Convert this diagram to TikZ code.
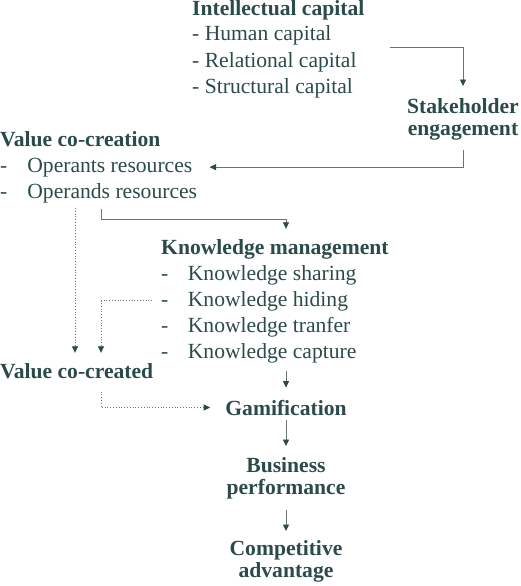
\documentclass[tikz,border=0pt]{standalone}
\usepackage{fontspec}
\setmainfont{Liberation Serif}
\usepackage{xcolor}
\usetikzlibrary{arrows.meta}

\definecolor{tealdark}{HTML}{2B4B4B}
\definecolor{linegray}{HTML}{6E7272}

\tikzset{
    txt/.style={inner sep=0, anchor=base west, text=tealdark, font=\fontsize{21.6}{22}\selectfont},
    hd/.style={txt, font=\fontsize{21.6}{22}\selectfont\bfseries},
    stack/.style={hd, anchor=north, align=center},
    conn/.style={draw=linegray, line width=0.8pt, -{Triangle[length=6.5pt, width=6pt, color=tealdark]}},
    dconn/.style={conn, dotted}
}

\begin{document}
\begin{tikzpicture}[x=1pt, y=-1pt]
            \useasboundingbox (0,0) rectangle (520,586);

            \node[hd] (ic) at (192,16) {Intellectual capital};
            \foreach \w [count=\i] in {Human,Relational,Structural} {
                \node[txt] (ic\i) at (192,{15+26*\i}) {- \w\ capital};
            }

            \node[stack] (se) at (463,98) {Stakeholder\\engagement};

            \node[hd] (vc) at (0,146) {Value co-creation};
            \foreach \w [count=\i] in {Operants,Operands} {
                \node[txt] (vr\i) at (0,{146+26*\i}) {-\hspace{20pt}\w\ resources};
            }

            \node[hd] (km) at (161,254) {Knowledge management};
            \foreach \w [count=\i] in {sharing,hiding,tranfer,capture} {
                \node[txt] (km\i) at (161,{254+26*\i}) {-\hspace{19.5pt}Knowledge \w};
            }

            \node[hd] (vd) at (0,378) {Value co-created};

            \node[hd, anchor=base] (gm) at (286,415) {Gamification};
            \node[stack] (bp) at (286,457) {Business\\performance};
            \node[stack] (ca) at (286,540) {Competitive\\advantage};

            \coordinate (a1) at (390,47);
            \coordinate (b1) at (101,209);
            \coordinate (c1) at (75,208);

            \draw[conn, shorten >=12pt] (a1) -| (se.north);
            \draw[conn, shorten <=10pt, shorten >=17pt] (se.south) |- (vr1.east);
            \draw[conn, shorten >=10pt] (b1) -- ++(0,10) -| (gm |- km.north);

            \draw[dconn, shorten >=10pt] (c1) -- (c1 |- vd.north);
            \draw[dconn, shorten <=9pt, shorten >=10pt] (km2.west) -| (b1 |- vd.north);
            \draw[dconn, shorten <=13pt, shorten >=15pt] (b1 |- vd.south) |- (gm.west);

            \draw[conn, shorten <=8pt, shorten >=12pt] (gm |- km4.south) -- (gm.north);
            \draw[conn, shorten <=5pt, shorten >=11pt] (gm.south) -- (bp.north);
            \draw[conn, shorten <=11pt, shorten >=9pt] (bp.south) -- (ca.north);
        \end{tikzpicture}
\end{document}
